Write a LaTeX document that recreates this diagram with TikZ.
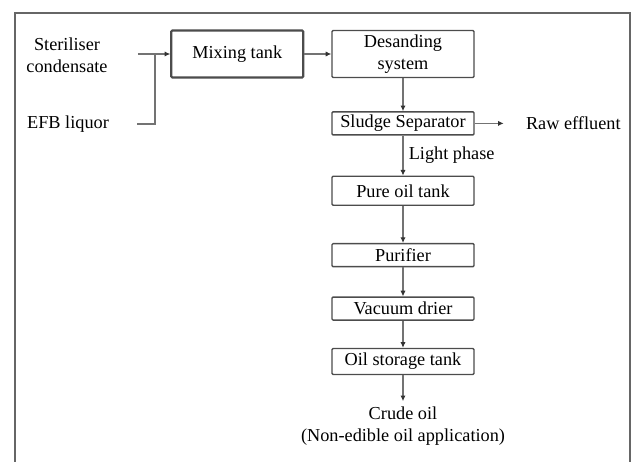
\documentclass[tikz,border=0pt]{standalone}
\usepackage{fontspec}
\setmainfont{Liberation Serif}
\usepackage{xcolor}
\usepackage{tikz}
\usetikzlibrary{arrows.meta, positioning}

\begin{document}
\begin{tikzpicture}[x=0.02cm, y=-0.02cm,
    font=\fontsize{10.4}{12.5}\selectfont,
    box/.style={draw=black!70, line width=0.8pt, rounded corners=0.6pt,
        minimum width=2.84cm, minimum height=0.46cm, inner ysep=1pt, align=center},
    txt/.style={inner sep=0pt, align=center},
    flow/.style={draw=black!55, line width=0.6pt,
        -{Latex[length=3.2pt, width=3pt, black!80]}},
    line/.style={draw=black!55, line width=0.6pt}]

            \useasboundingbox (0,0) rectangle (636,462);
            \draw[black!60, line width=0.8pt] (15,462) -- (15,13) -- (630,13) -- (630,462);

            \node[box] (desand) at (403,54) [minimum height=0.94cm] {Desanding\\system};
            \node[box] (mix) [line width=1.2pt, minimum width=2.64cm, minimum height=0.94cm, left=0.54cm of desand] {Mixing tank};

            \node[txt] (ster) at (67,55) {Steriliser\\condensate};
            \node[txt] (efb) at (68,124) {EFB liquor};
            \coordinate (j) at (155,54);

            \node[box] (sludge) [below=0.66cm of desand] {Sludge Separator};
            \node[txt] (raw) [right=1.02cm of sludge] {Raw effluent};

            \node[box] (pure) [minimum height=0.58cm, below=0.8cm of sludge] {Pure oil tank};
            \node[box] (purif) [below=0.74cm of pure] {Purifier};
            \node[box] (vac) [below=0.58cm of purif] {Vacuum drier};
            \node[box] (store) [minimum height=0.52cm, below=0.54cm of vac] {Oil storage tank};

            \node[txt] (crude) [below=0.62cm of store] {Crude oil\\(Non-edible oil application)};

            % feed lines
            \draw[flow, shorten <=0.6cm] (ster.east |- mix.west) -- (mix.west);
            \draw[line, shorten <=0.56cm] (efb.east) -- (efb.east -| j) -- (j);

            \draw[flow] (mix) -- (desand);
            \draw[flow] (desand) -- (sludge);
            \draw[flow, shorten >=0.44cm] (sludge) -- (raw);
            \draw[flow] (sludge) -- node[txt, right=3pt] {Light phase} (pure);
            \draw[flow] (pure) -- (purif);
            \draw[flow] (purif) -- (vac);
            \draw[flow] (vac) -- (store);
            \draw[flow, shorten >=0.1cm] (store) -- (crude);

\end{tikzpicture}
\end{document}
